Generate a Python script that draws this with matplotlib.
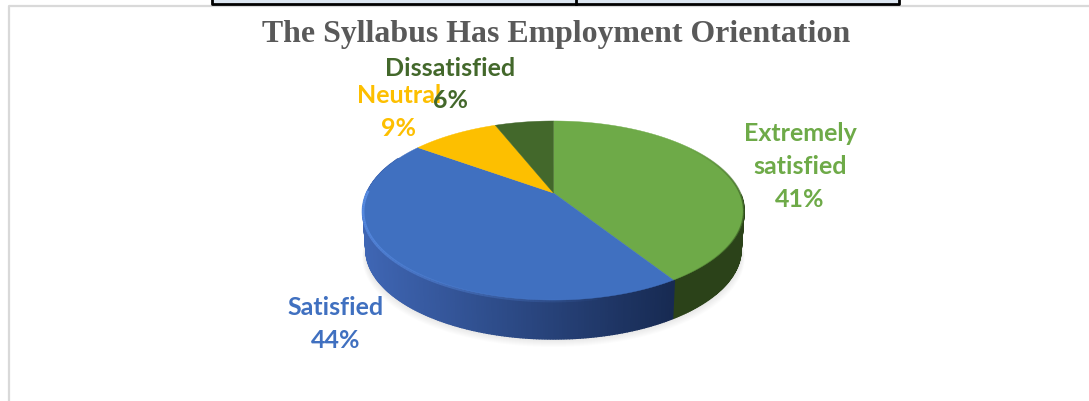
import numpy as np
import matplotlib
matplotlib.use("Agg")
import matplotlib.pyplot as plt
from matplotlib.colors import to_rgb

categories = ["Extremely\nsatisfied", "Satisfied", "Neutral", "Dissatisfied"]
values = [41, 44, 9, 6]
colors = ["#6EAA48", "#4070C0", "#FDBF00", "#43682B"]
side_left = ["#2B4219", "#3F66B4", "#FDBF00", "#43682B"]
side_right = ["#2B4219", "#172A52", "#FDBF00", "#43682B"]
title = "The Syllabus Has Employment Orientation"

W, H = 1089, 402
CX, CY = 553.5, 194
DEPTH = 39


def project(theta, r=1.0):
    # tilted circle to screen, theta clockwise from the top
    u, v = r*np.sin(theta), r*np.cos(theta)
    den = 1 + 0.1955*v
    return CX + 186.8*u/den, CY - 86.1*v/den


fig = plt.figure(figsize=(W/100, H/100), dpi=100)
ax = fig.add_axes([0, 0, 1, 1])
ax.set_xlim(0, W)
ax.set_ylim(H, 0)
ax.axis("off")

# page frame and the bottom of the table above
ax.plot([9, 9, W], [H, 7, 7], color="#D9D9D9", lw=1.6, zorder=1)
ax.fill_between([212, 899], 0, 4, color="#DCE6F1", lw=0, zorder=2)
ax.plot([212, 212, 899, 899], [0, 5, 5, 0], color="black", lw=2, zorder=3)
ax.plot([576, 576], [0, 5], color="black", lw=2, zorder=3)

edges = np.cumsum([0] + values)/sum(values)*2*np.pi

# soft shadow below the pie
t = np.linspace(0, 2*np.pi, 200)
sx, sy = project(t)
for k in range(8):
    ax.fill(CX + (sx - CX)*(0.99 + k*0.002), sy + DEPTH + 1 + k, color="black", alpha=0.012, lw=0, zorder=4)

# side wall, in thin strips so the shading can run along it
t_all = np.linspace(np.pi/2 + 0.02, 3*np.pi/2 + 0.45, 300)
for a, b in zip(t_all[:-1], t_all[1:]):
    i = np.searchsorted(edges, (a + b)/2) - 1
    x0, y0 = project(np.array([a, b]))
    x1 = CX + (x0 - CX)*0.985
    y1 = y0 + DEPTH
    f = min((x0.mean() - (CX - 190))/310, 1)
    left, right = np.array(to_rgb(side_left[i])), np.array(to_rgb(side_right[i]))
    c = left + (right - left)*f
    ax.fill([x0[0], x0[1], x1[1], x1[0]], [y0[0], y0[1], y1[1], y1[0]],
            facecolor=c, edgecolor=c, lw=1, zorder=5)

# top of the pie
for i, val in enumerate(values):
    t = np.linspace(edges[i], edges[i+1], 120)
    x, y = project(t)
    ax.fill(np.r_[CX, x], np.r_[CY, y], color=colors[i], lw=0.3, zorder=6)

# bevel along the rim, fading out to the right
t = np.linspace(2.95, 4.75, 80)
x, y = project(t)
for k in range(len(t) - 1):
    ax.plot(x[k:k+2], y[k:k+2] + 1, color="#5A8FE6", lw=2, alpha=0.9*k/len(t) + 0.05,
            solid_capstyle="butt", zorder=7)
t = np.linspace(0.9, edges[1], 60)
x, y = project(t)
for k in range(len(t) - 1):
    ax.plot(x[k:k+2], y[k:k+2] + 0.5, color="#2F4F1C", lw=1.5, alpha=0.7*min(k, len(t) - k)/30,
            solid_capstyle="butt", zorder=7)

ax.text(556.5, 42, title, family="Liberation Serif", weight="bold", fontsize=22.95,
        color="#595959", ha="center", va="baseline", zorder=8)


def label(x, y, txt, col):
    ax.text(x, y, txt, family="Lato", weight="bold", fontsize=18, color=col,
            ha="center", va="center", linespacing=1.52, zorder=9)


label(800, 166.5, categories[0] + "\n%d%%" % values[0], colors[0])
label(336, 324, categories[1] + "\n%d%%" % values[1], colors[1])
label(399, 112, categories[2] + "\n%d%%" % values[2], colors[2])
label(450, 84.5, categories[3] + "\n%d%%" % values[3], colors[3])

fig.savefig("out.png", dpi=100)
